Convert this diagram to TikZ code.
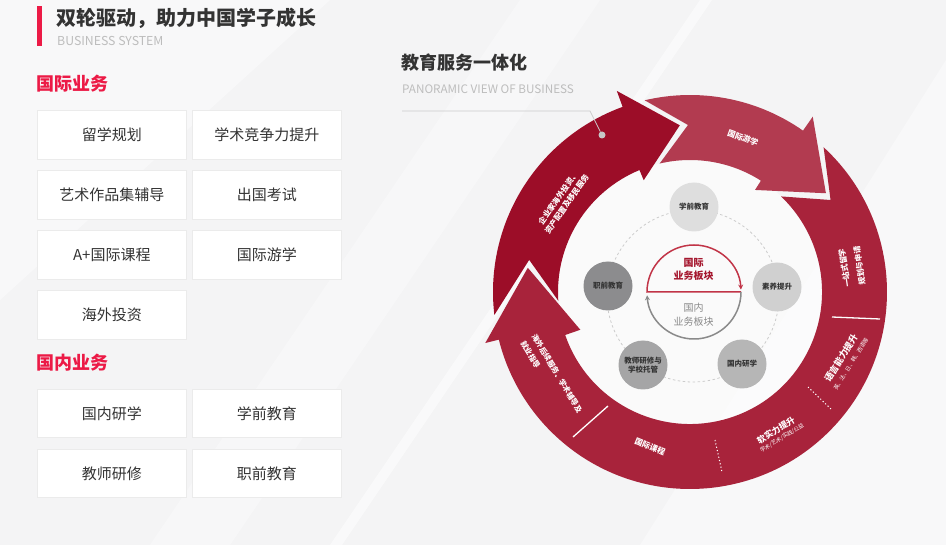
\documentclass[tikz,border=0pt]{standalone}
\usepackage{fontspec}
\setmainfont{Noto Sans CJK SC}
\usetikzlibrary{arrows.meta,calc}
\definecolor{bg}{HTML}{F4F4F5}
\definecolor{titlered}{HTML}{EC1A46}
\definecolor{txt}{HTML}{333333}
\definecolor{subgray}{HTML}{BDBDBD}
\definecolor{boxline}{HTML}{EBEBEB}
\definecolor{arrowA}{HTML}{9C0D28}
\definecolor{arrowB}{HTML}{B23B50}
\definecolor{arrowC}{HTML}{A8233B}
\definecolor{dred}{HTML}{C13447}
\definecolor{dredtxt}{HTML}{A5182F}
\definecolor{dgray}{HTML}{8A8A8A}
\definecolor{pa}{HTML}{DEDEDE}
\definecolor{pb}{HTML}{D0D0D0}
\definecolor{pc}{HTML}{B6B6B6}
\definecolor{pd}{HTML}{A5A5A6}
\definecolor{pe}{HTML}{8C8C8E}
\tikzset{
  bizbox/.style={draw=boxline, line width=0.8pt, fill=white, minimum width=149pt, minimum height=48.5pt, inner sep=0pt, text=txt, font=\fontsize{15}{18}\selectfont},
  sechead/.style={anchor=west, inner sep=0pt, text=titlered, font=\bfseries\fontsize{18}{20}\selectfont},
  ringtxt/.style={text=white, inner sep=0pt, align=center, font=\bfseries\fontsize{8}{10}\selectfont},
  ringsmall/.style={text=white, inner sep=0pt, align=center, font=\fontsize{5.5}{7}\selectfont},
  pcirc/.style={circle, minimum size=49pt, inner sep=0pt, align=center, text=txt, font=\bfseries\fontsize{7.5}{9.5}\selectfont},
  sepline/.style={white, line width=1.3pt},
  sepdots/.style={white, line width=1pt, dash pattern=on 1.2pt off 2.2pt},
}
\begin{document}
\begin{tikzpicture}[x=1pt,y=1pt]
\useasboundingbox (0,0) rectangle (946,-545);
\fill[bg] (0,0) rectangle (946,-545);
\fill[white, opacity=.45] (0,0) -- (330,0) -- (0,-300) -- cycle;
\fill[white, opacity=.35] (150,-545) -- (230,-545) -- (600,0) -- (520,0) -- cycle;
\fill[white, opacity=.5] (330,-545) -- (342,-545) -- (712,0) -- (700,0) -- cycle;
\fill[white, opacity=.4] (640,-545) -- (946,-545) -- (946,-60) -- cycle;

% ---------- header ----------
\fill[titlered] (37,-6) rectangle (41.5,-46);
\node[anchor=west, inner sep=0pt, text=txt, font=\bfseries\fontsize{20}{22}\selectfont] (title) at (56,-18.3) {双轮驱动，助力中国学子成长};
\node[anchor=base west, inner sep=0pt, text=subgray, font=\fontsize{12.3}{14}\selectfont] (subtitle) at (57,-46) {BUSINESS SYSTEM};

% ---------- left lists ----------
\node[sechead] (intl) at (36.5,-84) {国际业务};
\node[bizbox] (b1) at (111.8,-135) {留学规划};
\node[bizbox] (b2) at (266.8,-135) {学术竞争力提升};
\node[bizbox] (b3) at (111.8,-195) {艺术作品集辅导};
\node[bizbox] (b4) at (266.8,-195) {出国考试};
\node[bizbox] (b5) at (111.8,-255) {A+国际课程};
\node[bizbox] (b6) at (266.8,-255) {国际游学};
\node[bizbox] (b7) at (111.8,-315) {海外投资};
\node[sechead] (dom) at (36.5,-363) {国内业务};
\node[bizbox] (d1) at (111.8,-413.6) {国内研学};
\node[bizbox] (d2) at (266.8,-413.6) {学前教育};
\node[bizbox] (d3) at (111.8,-473.6) {教师研修};
\node[bizbox] (d4) at (266.8,-473.6) {职前教育};

% ---------- right header ----------
\node[anchor=west, inner sep=0pt, text=txt, font=\bfseries\fontsize{18}{20}\selectfont] (rtitle) at (401.5,-62.5) {教育服务一体化};
\node[anchor=base west, inner sep=0pt, text=subgray, font=\fontsize{11.7}{14}\selectfont] (rsub) at (402,-93.3) {PANORAMIC VIEW OF BUSINESS};

% ---------- ring ----------
\begin{scope}[shift={(690,-292)}]
  \fill[white, opacity=.55] (0,0) circle[radius=132];
  % arrow B (top)
  \fill[arrowB] (103.3:197) arc[start angle=103.3, end angle=55, radius=197] -- (55:214) -- (36:168) -- (57.5:121) -- (57.5:132) arc[start angle=57.5, end angle=103.3, radius=132] -- (90.7:167) -- cycle;
  % arrow A (upper left, dark)
  \fill[arrowA] (186.7:197) arc[start angle=186.7, end angle=110, radius=197] -- (110:214) -- (93.5:167) -- (112.5:121) -- (112.5:132) arc[start angle=112.5, end angle=183.8, radius=132] -- (168.7:164) -- cycle;
  % arrow C (right, bottom, left)
  \fill[arrowC] (47.3:197) arc[start angle=47.3, end angle=-166, radius=197] -- (-166:211) -- (-188.5:164) -- (-161:116) -- (-161:132) arc[start angle=-161, end angle=46.4, radius=132] -- (33.2:168) -- cycle;
\end{scope}

% annotation leader
\coordinate (ldA) at (402,-111);
\coordinate (ldB) at (590,-111);
\node[circle, fill=black!22, minimum size=7pt, inner sep=0pt] (lddot) at (602,-135) {};
\draw[black!20, line width=0.8pt] (ldA) -- (ldB) -- (lddot);

% separators on the red band
\draw[sepline] (832,-317) -- (880,-319);
\draw[sepline] (573,-437) -- (608,-406);
\draw[sepdots] (808,-387) -- (832,-410);
\draw[sepdots] (715,-440) -- (722,-472);

% band texts
\node[ringtxt, rotate=55, font=\bfseries\fontsize{7.8}{10.5}\selectfont] (tA) at (562.5,-201) {企业家海外投资、\\资产配置及移民服务};
\node[ringtxt, rotate=-20] (tB) at (743,-138) {国际游学};
\node[ringtxt, rotate=99, font=\bfseries\fontsize{7.8}{15}\selectfont] (tC1) at (852,-267) {一站式留学\\规划与申请};
\node[ringtxt, rotate=58, font=\bfseries\fontsize{9}{11}\selectfont] (tC2) at (841,-358) {语言能力提升};
\node[ringsmall, rotate=58] (tC2s) at (851,-364) {英、法、日、韩、西语等};
\node[ringtxt, rotate=32, font=\bfseries\fontsize{8.5}{10}\selectfont] (tC3) at (776,-430) {软实力提升};
\node[ringsmall, rotate=32] (tC3s) at (782,-438) {学术/艺术/实践/公益};
\node[ringtxt, rotate=-22] (tC4) at (650,-447) {国际课程};
\node[ringtxt, rotate=-59, align=left, font=\bfseries\fontsize{7.5}{13}\selectfont] (tC5) at (551.5,-377) {海外后续服务、学术辅导及\\就业指导};

% inner pentagon
\draw[black!20, line width=0.8pt, dash pattern=on 2.5pt off 2.5pt] (693,-296) circle[radius=86];
\node[pcirc, fill=pa] (p1) at (694,-207) {学前教育};
\node[pcirc, fill=pb] (p2) at (777,-287) {素养提升};
\node[pcirc, fill=pc] (p3) at (742,-364) {国内研学};
\node[pcirc, fill=pd] (p4) at (643,-365) {教师研修与\\学校托管};
\node[pcirc, fill=pe] (p5) at (608,-286) {职前教育};

% centre cycle
\coordinate (cR) at (741,-292);
\coordinate (cL) at (647,-292);
\draw[dred, line width=1.5pt, -{Stealth[length=5pt,width=5pt]}] (cR) -- (cL) arc[start angle=180, end angle=3, radius=47];
\draw[dgray, line width=1.5pt, -{Stealth[length=5pt,width=5pt]}] (cR) arc[start angle=0, end angle=-176, radius=47];
\node[inner sep=0pt, align=center, text=dredtxt, font=\bfseries\fontsize{10}{13.5}\selectfont] (intlblock) at (693.5,-269.5) {国际\\业务板块};
\node[inner sep=0pt, align=center, text=dgray, font=\fontsize{10}{14}\selectfont] (domblock) at (693.5,-315) {国内\\业务板块};
\end{tikzpicture}
\end{document}
